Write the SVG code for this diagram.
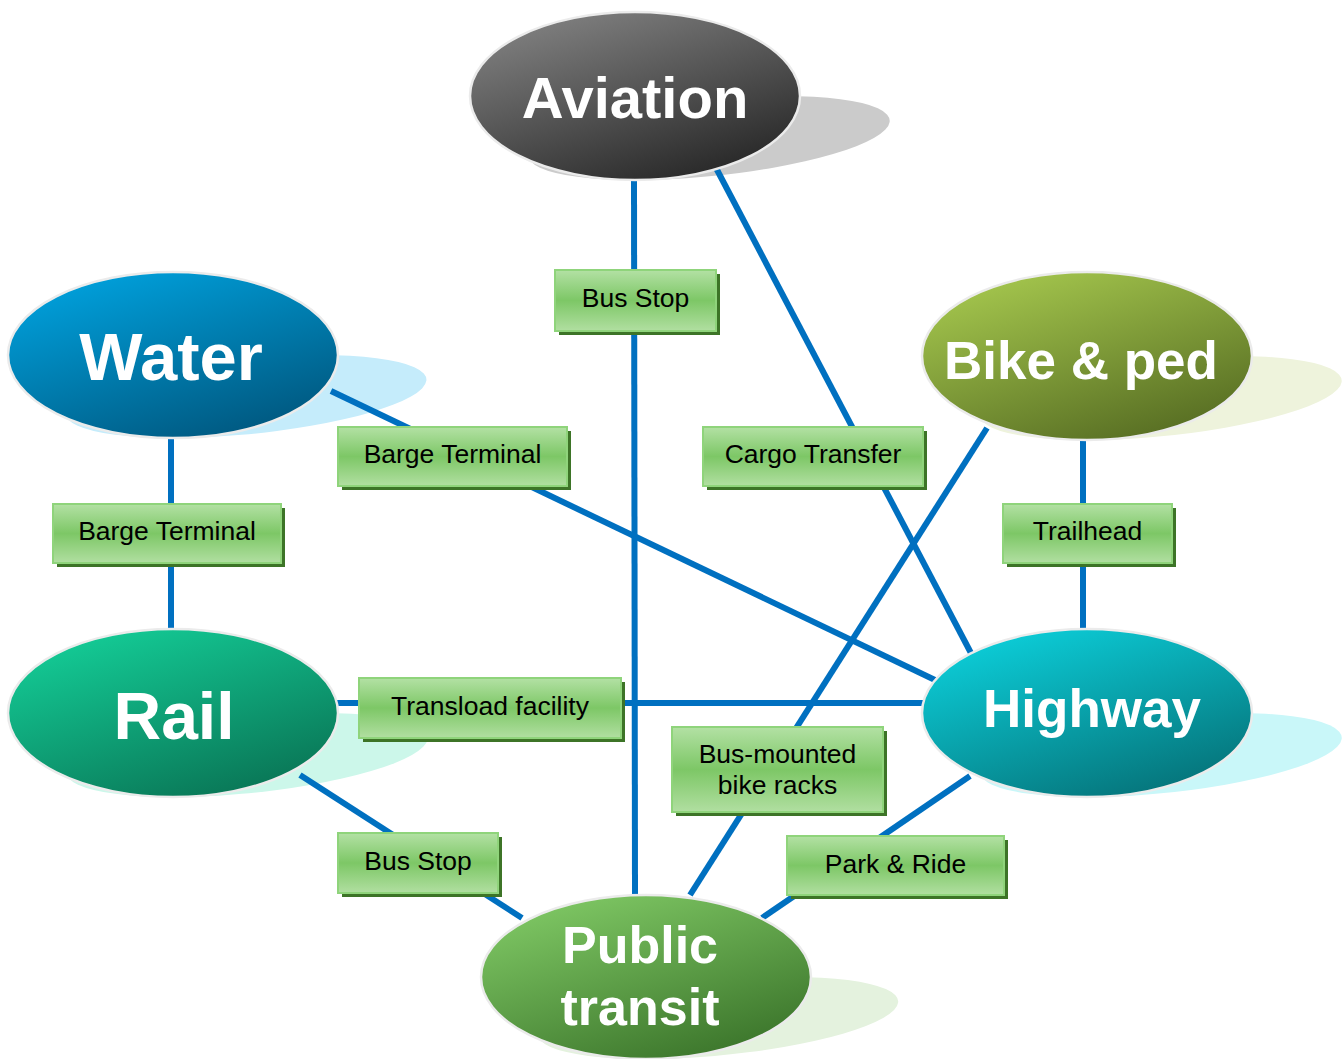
<svg xmlns="http://www.w3.org/2000/svg" width="1344" height="1059" viewBox="0 0 1344 1059">
<style>
.node{stroke:#ebebeb;stroke-width:2.5}
.nt{font-family:"Liberation Sans",Arial,sans-serif;font-weight:bold;fill:#fff;text-anchor:middle}
.conn line{stroke:#0070c0;stroke-width:6;stroke-linecap:butt}
.box{fill:url(#gBox);stroke:#8fd47b;stroke-width:2}
.bsh{fill:#3d7427}
.lt{font-family:"Liberation Sans",Arial,sans-serif;font-size:26.5px;fill:#000;text-anchor:middle}
</style>
<defs>
<linearGradient id="gAv" x1="0.2" y1="0" x2="0.8" y2="1"><stop offset="0" stop-color="#828282"/><stop offset="1" stop-color="#242424"/></linearGradient>
<linearGradient id="gWa" x1="0.2" y1="0" x2="0.8" y2="1"><stop offset="0" stop-color="#00a2de"/><stop offset="1" stop-color="#00557c"/></linearGradient>
<linearGradient id="gBi" x1="0.2" y1="0" x2="0.8" y2="1"><stop offset="0" stop-color="#a6c84e"/><stop offset="1" stop-color="#546a21"/></linearGradient>
<linearGradient id="gRa" x1="0.2" y1="0" x2="0.8" y2="1"><stop offset="0" stop-color="#14ce98"/><stop offset="1" stop-color="#097253"/></linearGradient>
<linearGradient id="gHi" x1="0.2" y1="0" x2="0.8" y2="1"><stop offset="0" stop-color="#0cd0db"/><stop offset="1" stop-color="#057076"/></linearGradient>
<linearGradient id="gPT" x1="0.2" y1="0" x2="0.8" y2="1"><stop offset="0" stop-color="#80c965"/><stop offset="1" stop-color="#397229"/></linearGradient>
<linearGradient id="gBox" x1="0" y1="0" x2="0" y2="1"><stop offset="0" stop-color="#b3e1a4"/><stop offset="0.5" stop-color="#7dc766"/><stop offset="1" stop-color="#b1dfa1"/></linearGradient>
</defs>

<!-- shadows -->
<g id="shadows">
<ellipse cx="635" cy="96" rx="165" ry="84" fill="#cbcbcb" transform="matrix(1,0,-0.88,0.5,158.4,90)"/>
<ellipse cx="173" cy="355" rx="165" ry="83" fill="#c5ecfb" transform="matrix(1,0,-0.88,0.5,385.4,219)"/>
<ellipse cx="1087" cy="356" rx="165" ry="84" fill="#eef3dc" transform="matrix(1,0,-0.88,0.5,387.2,220)"/>
<ellipse cx="173" cy="713" rx="165" ry="84" fill="#ccf7ea" transform="matrix(1,0,-0.88,0.5,701.4,398.5)"/>
<ellipse cx="1087" cy="713" rx="165" ry="84" fill="#c9f7f9" transform="matrix(1,0,-0.88,0.5,701.4,398.5)"/>
<ellipse cx="646" cy="977" rx="165" ry="82" fill="#e4f2de" transform="matrix(1,0,-0.88,0.5,931.9,529.5)"/>
</g>

<g id="connectors" class="conn">
<line x1="634" y1="178" x2="635" y2="896"/>
<line x1="715" y1="166" x2="972" y2="655"/>
<line x1="331" y1="391" x2="935" y2="680"/>
<line x1="987" y1="428" x2="690" y2="895"/>
<line x1="300" y1="775" x2="522" y2="918"/>
<line x1="970" y1="776" x2="762" y2="918"/>
<line x1="336" y1="703" x2="924" y2="703"/>
<line x1="171" y1="438" x2="171" y2="631"/>
<line x1="1083" y1="438" x2="1083" y2="631"/>
</g>

<g id="aviation"><ellipse class="node" cx="635" cy="96" rx="165" ry="84" fill="url(#gAv)"/><text class="nt" x="635" y="118" font-size="58">Aviation</text></g>
<g id="water"><ellipse class="node" cx="173" cy="355" rx="165" ry="83" fill="url(#gWa)"/><text class="nt" x="171" y="380" font-size="67">Water</text></g>
<g id="bike"><ellipse class="node" cx="1087" cy="356" rx="165" ry="84" fill="url(#gBi)"/><text class="nt" x="1081" y="379" font-size="53">Bike &amp; ped</text></g>
<g id="rail"><ellipse class="node" cx="173" cy="713" rx="165" ry="84" fill="url(#gRa)"/><text class="nt" x="174" y="739" font-size="66">Rail</text></g>
<g id="highway"><ellipse class="node" cx="1087" cy="713" rx="165" ry="84" fill="url(#gHi)"/><text class="nt" x="1092" y="727" font-size="53">Highway</text></g>
<g id="transit"><ellipse class="node" cx="646" cy="977" rx="165" ry="82" fill="url(#gPT)"/><text class="nt" x="640" y="963" font-size="52">Public</text><text class="nt" x="640" y="1025" font-size="52">transit</text></g>

<g id="lbl-busstop-top"><rect class="bsh" x="559" y="274" width="161" height="61"/><rect class="box" x="555" y="270" width="161" height="61"/><text class="lt" x="635.5" y="307">Bus Stop</text></g>
<g id="lbl-barge-mid"><rect class="bsh" x="342" y="431" width="229" height="59"/><rect class="box" x="338" y="427" width="229" height="59"/><text class="lt" x="452.5" y="463">Barge Terminal</text></g>
<g id="lbl-cargo"><rect class="bsh" x="707" y="431" width="220" height="59"/><rect class="box" x="703" y="427" width="220" height="59"/><text class="lt" x="813" y="463">Cargo Transfer</text></g>
<g id="lbl-barge-left"><rect class="bsh" x="57" y="508" width="228" height="59"/><rect class="box" x="53" y="504" width="228" height="59"/><text class="lt" x="167" y="540">Barge Terminal</text></g>
<g id="lbl-trailhead"><rect class="bsh" x="1007" y="508" width="169" height="59"/><rect class="box" x="1003" y="504" width="169" height="59"/><text class="lt" x="1087.5" y="540">Trailhead</text></g>
<g id="lbl-transload"><rect class="bsh" x="363" y="682" width="262" height="60"/><rect class="box" x="359" y="678" width="262" height="60"/><text class="lt" x="490" y="715">Transload facility</text></g>
<g id="lbl-bikeracks"><rect class="bsh" x="676" y="731" width="211" height="85"/><rect class="box" x="672" y="727" width="211" height="85"/><text class="lt" x="777.5" y="763">Bus-mounted</text><text class="lt" x="777.5" y="794">bike racks</text></g>
<g id="lbl-busstop-low"><rect class="bsh" x="342" y="837" width="160" height="60"/><rect class="box" x="338" y="833" width="160" height="60"/><text class="lt" x="418" y="870">Bus Stop</text></g>
<g id="lbl-parkride"><rect class="bsh" x="791" y="840" width="217" height="59"/><rect class="box" x="787" y="836" width="217" height="59"/><text class="lt" x="895.5" y="873">Park &amp; Ride</text></g>
</svg>
